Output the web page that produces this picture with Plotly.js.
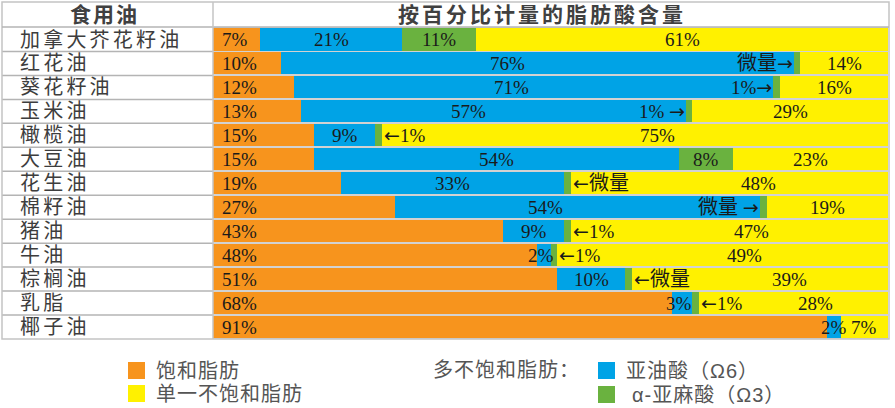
<!DOCTYPE html>
<html><head><meta charset="utf-8">
<script src="https://cdn.plot.ly/plotly-3.0.1.min.js"></script>
<style>html,body{margin:0;padding:0;background:#fff;overflow:hidden}#chart{width:895px;height:408px}</style>
</head><body><div id="chart"></div>
<script>
// ---- data ----
const oils = ['加拿大芥花籽油','红花油','葵花籽油','玉米油','橄榄油','大豆油','花生油','棉籽油','猪油','牛油','棕榈油','乳脂','椰子油'];
const saturated = [7,10,12,13,15,15,19,27,43,48,51,68,91];
const linoleic = [21,76,71,57,9,54,33,54,9,2,10,3,2];
const alphaLinolenic = [11,1,1,1,1,8,1,1,1,1,1,1,0]; // “微量” (trace) drawn as about 1
const monounsaturated = [61,14,16,29,75,23,48,19,47,49,39,28,7];
const alphaLabels = ['11%','微量→','1%→','1% →','←1%','8%','←微量','微量 →','←1%','←1%','←微量','←1%',''];
const seriesNames = ['饱和脂肪','亚油酸（Ω6）','α-亚麻酸（Ω3）','单一不饱和脂肪'];
const seriesColors = ['#F7941D','#00A3E6','#6AB23F','#FFF100'];
const headerLeft = '食用油';
const headerRight = '按百分比计量的脂肪酸含量';
const polyTitle = '多不饱和脂肪：';

// ---- geometry helpers (pixel -> paper) ----
const W = 895, H = 408, L = 213, R = 888, T = 27, B = 339;
const px = x => (x - L) / (R - L);
const py = y => (B - y) / (B - T);

const numFont = {family: 'Liberation Serif, Noto Sans CJK SC, serif', size: 19, color: '#1a1a1a'};
const cjk = 'Liberation Sans, Noto Sans CJK SC, sans-serif';
const sp = (t, ls) => '<span style="letter-spacing:' + ls + 'px">' + t + '</span>';
const fmtLbl = t => t.replace('微量', '<span style="font-size:20px">微量</span>')
  .replace(/([←→])/g, '<span style="font-family:DejaVu Sans">$1</span>');
function estW(t) {
  let w = 0;
  for (const c of t) {
    if (/[\u4e00-\u9fff]/.test(c)) w += 20;
    else if (c === '→' || c === '←') w += 19;
    else if (c === '%') w += 16;
    else if (c === ' ') w += 5;
    else w += 9.5;
  }
  return w;
}

const seriesVals = [saturated, linoleic, alphaLinolenic, monounsaturated];
const traces = seriesVals.map((vals, k) => ({
  type: 'bar', orientation: 'h', y: oils, x: vals, name: seriesNames[k],
  marker: {color: seriesColors[k], line: {width: 0}}, hoverinfo: 'skip', showlegend: false
}));

const ann = [];
const shapes = [];
const A = o => Object.assign({showarrow: false, borderpad: 0, yanchor: 'middle'}, o);
oils.forEach((o, i) => {
  // left column label
  ann.push(A({xref: 'paper', yref: 'y', x: px(19), y: o, xanchor: 'left',
    text: sp(o, 3.2), font: {family: cjk, size: 20, color: '#3d3d3d'}}));
  const s = saturated[i], l = linoleic[i], a = alphaLinolenic[i], m = monounsaturated[i];
  const al = alphaLabels[i];
  const leftArrow = al.endsWith('→'), rightArrow = al.startsWith('←');
  // saturated
  ann.push(A({xref: 'x', yref: 'y', x: 0, y: o, xanchor: 'left', xshift: 8, text: s + '%', font: numFont}));
  // linoleic
  ann.push(A({xref: 'x', yref: 'y', x: s + l / 2, y: o, xanchor: 'center',
    xshift: leftArrow ? -estW(al) / 2 : (rightArrow && l < 4 ? -3 : 0), text: l + '%', font: numFont}));
  // alpha-linolenic
  if (al) {
    if (leftArrow) ann.push(A({xref: 'x', yref: 'y', x: s + l, y: o, xanchor: 'right', xshift: 0, text: fmtLbl(al), font: numFont}));
    else if (rightArrow) ann.push(A({xref: 'x', yref: 'y', x: s + l + a, y: o, xanchor: 'left', xshift: 1, text: fmtLbl(al), font: numFont}));
    else ann.push(A({xref: 'x', yref: 'y', x: s + l + a / 2, y: o, xanchor: 'center', text: al, font: numFont}));
  }
  // monounsaturated
  const st = s + l + a, en = Math.min(100, st + m);
  ann.push(A({xref: 'x', yref: 'y', x: (st + en) / 2, y: o, xanchor: 'center',
    xshift: rightArrow ? estW(al) / 2 : 0, text: m + '%', font: numFont}));
  // row separators in the label column
  if (i < oils.length - 1) shapes.push({type: 'line', xref: 'paper', yref: 'y', x0: px(2), x1: 0, y0: i + 0.5, y1: i + 0.5,
    line: {color: '#b4b4b4', width: 1.5}});
});

// header
ann.push(A({xref: 'paper', yref: 'paper', x: px(104), y: py(15), xanchor: 'center',
  text: '<b>' + sp(headerLeft, 2) + '</b>', font: {family: cjk, size: 21, color: '#404040'}}));
ann.push(A({xref: 'paper', yref: 'paper', x: px(542), y: py(15), xanchor: 'center',
  text: '<b>' + sp(headerRight, 3) + '</b>', font: {family: cjk, size: 21, color: '#404040'}}));

// table borders
const bc = '#c4c4c4';
shapes.push({type: 'rect', xref: 'paper', yref: 'paper', x0: px(2), x1: px(889), y0: py(339), y1: py(2), line: {color: bc, width: 1.5}});
shapes.push({type: 'line', xref: 'paper', yref: 'paper', x0: px(2), x1: px(889), y0: 1, y1: 1, line: {color: '#b4b4b4', width: 1.5}});
shapes.push({type: 'line', xref: 'paper', yref: 'paper', x0: 0, x1: 0, y0: py(339), y1: py(2), line: {color: bc, width: 1.5}});

// legend (manual)
const legFont = {family: cjk, size: 20, color: '#555555'};
const legItems = [
  {k: 0, sx: 128, sy: 362},
  {k: 3, sx: 128, sy: 385},
  {k: 1, sx: 598, sy: 362},
  {k: 2, sx: 598, sy: 386}
];
legItems.forEach(it => {
  shapes.push({type: 'rect', xref: 'paper', yref: 'paper', x0: px(it.sx), x1: px(it.sx + 17), y0: py(it.sy + 17), y1: py(it.sy),
    fillcolor: seriesColors[it.k], line: {width: 0}});
  ann.push(A({xref: 'paper', yref: 'paper', x: px(it.sx + 27 + (it.k === 2 ? 6 : 0)), y: py(it.sy + 8.5), xanchor: 'left',
    text: sp(seriesNames[it.k], 1), font: legFont}));
});
ann.push(A({xref: 'paper', yref: 'paper', x: px(432), y: py(370), xanchor: 'left',
  text: sp(polyTitle, 1), font: legFont}));

const layout = {
  width: W, height: H,
  margin: {l: L, r: W - R, t: T, b: H - B, pad: 0},
  barmode: 'stack', bargap: 0.08,
  paper_bgcolor: '#ffffff', plot_bgcolor: '#d2d2d2',
  xaxis: {range: [0, 100], visible: false, fixedrange: true},
  yaxis: {type: 'category', autorange: 'reversed', showticklabels: false, showgrid: false, zeroline: false, fixedrange: true},
  annotations: ann, shapes: shapes, showlegend: false,
  font: {family: cjk}
};
Plotly.newPlot('chart', traces, layout, {staticPlot: true, displayModeBar: false});
</script></body></html>
